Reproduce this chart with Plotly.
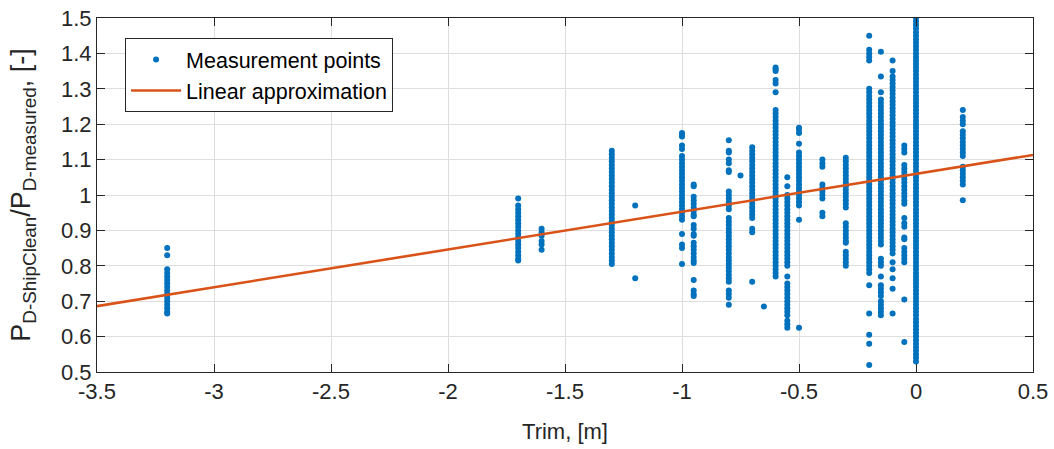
import plotly.graph_objects as go

# Trim values (m) of each measurement column
trims = [-3.2, -1.7, -1.6, -1.3, -1.2, -1.0, -0.95, -0.8, -0.75, -0.7, -0.65,
         -0.6, -0.55, -0.5, -0.4, -0.3, -0.2, -0.15, -0.1, -0.05, 0.0, 0.2]

# Measured P_D ratios per trim column
r_m320 = [0.85, 0.83, 0.79, 0.78, 0.77, 0.76, 0.75, 0.74, 0.73, 0.72, 0.71, 0.70, 0.69, 0.68, 0.67, 0.665]
r_m170 = [0.99, 0.97, 0.96, 0.95, 0.94, 0.93, 0.92, 0.91, 0.90, 0.89, 0.88, 0.87, 0.86, 0.85, 0.84, 0.83, 0.82, 0.815]
r_m160 = [0.905, 0.895, 0.885, 0.87, 0.86, 0.845]
r_m130 = [1.125, 1.115, 1.105, 1.095, 1.085, 1.075, 1.065, 1.055, 1.045, 1.035, 1.025, 1.015, 1.005,
          0.995, 0.985, 0.975, 0.965, 0.955, 0.945, 0.935, 0.925, 0.915, 0.905, 0.895, 0.885, 0.875,
          0.865, 0.855, 0.845, 0.835, 0.825, 0.815, 0.805]
r_m120 = [0.97, 0.765]
r_m100 = [1.175, 1.17, 1.165, 1.14, 1.13, 1.11, 1.10, 1.09, 1.08, 1.07, 1.06, 1.05, 1.04, 1.03, 1.02,
          1.01, 1.00, 0.99, 0.98, 0.97, 0.96, 0.95, 0.94, 0.93, 0.89, 0.86, 0.85, 0.805]
r_m095 = [1.03, 1.025, 0.995, 0.985, 0.975, 0.965, 0.955, 0.945, 0.94, 0.915, 0.905, 0.89, 0.885,
          0.865, 0.855, 0.845, 0.835, 0.825, 0.815, 0.808, 0.76, 0.73, 0.72, 0.715]
r_m080 = [1.155, 1.125, 1.12, 1.10, 1.09, 1.07, 1.065, 1.01, 1.0, 0.99, 0.98, 0.97, 0.96, 0.935, 0.925,
          0.915, 0.905, 0.895, 0.885, 0.875, 0.865, 0.855, 0.845, 0.835, 0.825, 0.815, 0.805, 0.795,
          0.785, 0.775, 0.765, 0.755, 0.73, 0.72, 0.71, 0.69]
r_m075 = [1.055]
r_m070 = [1.135, 1.125, 1.115, 1.105, 1.095, 1.085, 1.075, 1.065, 1.055, 1.045, 1.035, 1.025, 1.015,
          1.005, 0.995, 0.985, 0.975, 0.965, 0.955, 0.945, 0.935, 0.905, 0.895, 0.755]
r_m065 = [0.685]
r_m060 = [1.36, 1.355, 1.35, 1.325, 1.315, 1.29, 1.24, 1.23, 1.22, 1.21, 1.20, 1.19, 1.18, 1.17, 1.16,
          1.15, 1.14, 1.13, 1.12, 1.11, 1.10, 1.09, 1.08, 1.07, 1.06, 1.05, 1.04, 1.03, 1.02, 1.01,
          1.00, 0.99, 0.98, 0.97, 0.96, 0.95, 0.94, 0.93, 0.92, 0.91, 0.90, 0.89, 0.88, 0.87, 0.86,
          0.85, 0.84, 0.83, 0.82, 0.81, 0.80, 0.79, 0.78, 0.77]
r_m055 = [1.05, 1.025, 1.00, 0.99, 0.98, 0.97, 0.96, 0.95, 0.94, 0.93, 0.92, 0.91, 0.90, 0.89, 0.88,
          0.87, 0.86, 0.85, 0.84, 0.83, 0.82, 0.81, 0.80, 0.77, 0.75, 0.74, 0.73, 0.72, 0.71, 0.70,
          0.69, 0.68, 0.67, 0.66, 0.645, 0.635, 0.625]
r_m050 = [1.19, 1.185, 1.175, 1.145, 1.12, 1.11, 1.10, 1.09, 1.08, 1.07, 1.06, 1.05, 1.04, 1.03, 1.02,
          1.01, 1.00, 0.99, 0.98, 0.97, 0.93, 0.625]
r_m040 = [1.10, 1.09, 1.08, 1.03, 1.02, 1.01, 1.00, 0.99, 0.95, 0.94]
r_m030 = [1.105, 1.095, 1.085, 1.075, 1.065, 1.055, 1.045, 1.035, 1.025, 1.015, 1.005, 0.995, 0.985,
          0.975, 0.965, 0.92, 0.91, 0.90, 0.89, 0.88, 0.87, 0.865, 0.84, 0.83, 0.82, 0.81, 0.80]
r_m020 = [1.45, 1.41, 1.40, 1.39, 1.38, 1.30, 1.29, 1.28, 1.27, 1.26, 1.25, 1.24, 1.23, 1.22, 1.21,
          1.20, 1.19, 1.18, 1.17, 1.16, 1.15, 1.14, 1.13, 1.12, 1.11, 1.10, 1.09, 1.08, 1.07, 1.06,
          1.05, 1.04, 1.03, 1.02, 1.01, 1.00, 0.99, 0.98, 0.97, 0.96, 0.95, 0.94, 0.93, 0.92, 0.91,
          0.90, 0.89, 0.88, 0.87, 0.86, 0.85, 0.84, 0.83, 0.82, 0.81, 0.80, 0.79, 0.78, 0.745, 0.665,
          0.605, 0.58, 0.52]
r_m015 = [1.405, 1.335, 1.29, 1.27, 1.26, 1.25, 1.24, 1.23, 1.22, 1.21, 1.20, 1.19, 1.18, 1.17, 1.16,
          1.15, 1.14, 1.13, 1.12, 1.11, 1.10, 1.09, 1.08, 1.07, 1.06, 1.05, 1.04, 1.03, 1.02, 1.01,
          1.00, 0.99, 0.98, 0.97, 0.96, 0.95, 0.94, 0.93, 0.92, 0.91, 0.90, 0.89, 0.88, 0.87, 0.86,
          0.82, 0.81, 0.80, 0.77, 0.745, 0.735, 0.725, 0.715, 0.70, 0.69, 0.68, 0.67, 0.66]
r_m010 = [1.38, 1.35, 1.335, 1.325, 1.315, 1.305, 1.295, 1.285, 1.275, 1.265, 1.255, 1.245, 1.235,
          1.225, 1.215, 1.205, 1.195, 1.185, 1.175, 1.165, 1.155, 1.145, 1.135, 1.125, 1.115, 1.105,
          1.095, 1.085, 1.075, 1.065, 1.055, 1.045, 1.035, 1.025, 1.015, 1.005, 0.995, 0.985, 0.975,
          0.965, 0.955, 0.945, 0.935, 0.925, 0.915, 0.905, 0.895, 0.885, 0.875, 0.865, 0.855, 0.845,
          0.835, 0.81, 0.79, 0.765, 0.735, 0.665]
r_m005 = [1.14, 1.13, 1.12, 1.085, 1.075, 1.065, 1.055, 1.045, 1.035, 1.025, 1.015, 1.005, 0.995,
          0.985, 0.975, 0.935, 0.92, 0.91, 0.88, 0.875, 0.85, 0.84, 0.83, 0.82, 0.81, 0.705, 0.585]
r_000 = [1.50, 1.49, 1.48, 1.47, 1.46, 1.45, 1.44, 1.43, 1.42, 1.41, 1.40, 1.39, 1.38, 1.37, 1.36,
         1.35, 1.34, 1.33, 1.32, 1.31, 1.30, 1.29, 1.28, 1.27, 1.26, 1.25, 1.24, 1.23, 1.22, 1.21,
         1.20, 1.19, 1.18, 1.17, 1.16, 1.15, 1.14, 1.13, 1.12, 1.11, 1.10, 1.09, 1.08, 1.07, 1.06,
         1.05, 1.04, 1.03, 1.02, 1.01, 1.00, 0.99, 0.98, 0.97, 0.96, 0.95, 0.94, 0.93, 0.92, 0.91,
         0.90, 0.89, 0.88, 0.87, 0.86, 0.85, 0.84, 0.83, 0.82, 0.81, 0.80, 0.79, 0.78, 0.77, 0.76,
         0.75, 0.74, 0.73, 0.72, 0.71, 0.70, 0.69, 0.68, 0.67, 0.66, 0.65, 0.64, 0.63, 0.62, 0.61,
         0.60, 0.59, 0.58, 0.57, 0.56, 0.55, 0.54, 0.53]
r_p020 = [1.24, 1.22, 1.21, 1.20, 1.18, 1.17, 1.16, 1.15, 1.14, 1.13, 1.12, 1.11, 1.08, 1.07, 1.06,
          1.05, 1.04, 1.03, 0.985]

columns = [r_m320, r_m170, r_m160, r_m130, r_m120, r_m100, r_m095, r_m080, r_m075, r_m070, r_m065,
           r_m060, r_m055, r_m050, r_m040, r_m030, r_m020, r_m015, r_m010, r_m005, r_000, r_p020]

# Linear approximation end points
approx_x = [-3.5, 0.5]
approx_y = [0.686, 1.113]

# Tick labels
x_ticks = [-3.5, -3, -2.5, -2, -1.5, -1, -0.5, 0, 0.5]
x_tick_text = ["-3.5", "-3", "-2.5", "-2", "-1.5", "-1", "-0.5", "0", "0.5"]
y_ticks = [0.5, 0.6, 0.7, 0.8, 0.9, 1.0, 1.1, 1.2, 1.3, 1.4, 1.5]
y_tick_text = ["0.5", "0.6", "0.7", "0.8", "0.9", "1", "1.1", "1.2", "1.3", "1.4", "1.5"]

xs, ys = [], []
for t, col in zip(trims, columns):
    xs.extend([t] * len(col))
    ys.extend(col)

fig = go.Figure()
fig.add_trace(go.Scatter(x=xs, y=ys, mode="markers", name="Measurement points",
                         marker=dict(color="#0072BD", size=6, line=dict(width=0))))
fig.add_trace(go.Scatter(x=approx_x, y=approx_y, mode="lines", name="Linear approximation",
                         line=dict(color="#D95319", width=2.6)))

axis_common = dict(showline=True, linecolor="#262626", linewidth=1, mirror="ticks",
                   ticks="inside", ticklen=8, tickcolor="#262626", showgrid=True,
                   gridcolor="#dedede", gridwidth=1, zeroline=False,
                   ticklabeloverflow="allow",
                   tickfont=dict(size=22, color="#262626"))

fig.update_xaxes(range=[-3.5, 0.5], tickvals=x_ticks, ticktext=x_tick_text,
                 title=dict(text="Trim, [m]", font=dict(size=22, color="#262626"), standoff=20),
                 **axis_common)
fig.update_yaxes(range=[0.5, 1.5], tickvals=y_ticks, ticktext=y_tick_text,
                 title=dict(text="P<sub>D-ShipClean</sub>/P<sub>D-measured</sub>, [-]",
                            font=dict(size=27, color="#262626"), standoff=22),
                 **axis_common)

fig.update_layout(
    width=1054, height=449,
    margin=dict(l=97, r=21, t=18, b=77, autoexpand=False),
    paper_bgcolor="white", plot_bgcolor="white",
    font=dict(family="Liberation Sans, Arial, sans-serif", color="#262626"),
    legend=dict(x=0.03, y=0.9435, xanchor="left", yanchor="top",
                bordercolor="#262626", borderwidth=1, bgcolor="white",
                font=dict(size=21.5, color="#000000"), itemwidth=50, tracegroupgap=0),
)

fig.write_html("out.html", config={"displayModeBar": False},
               post_script="document.body.style.margin='0px';")
